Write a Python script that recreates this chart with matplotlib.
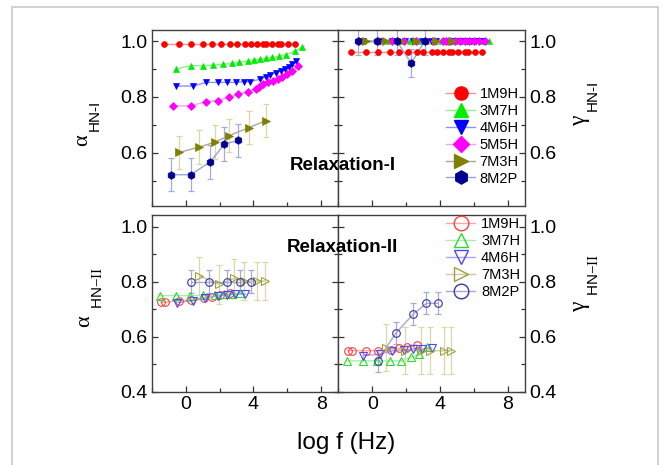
import matplotlib
matplotlib.use('Agg')
import matplotlib.pyplot as plt
from matplotlib.lines import Line2D
from matplotlib.patches import Rectangle
from matplotlib.ticker import MultipleLocator

plt.rcParams['font.family'] = ['Liberation Sans', 'DejaVu Sans']
plt.rcParams['mathtext.fontset'] = 'custom'
plt.rcParams['mathtext.rm'] = 'Liberation Serif'
plt.rcParams['mathtext.sf'] = 'Liberation Sans'
plt.rcParams['mathtext.it'] = 'Liberation Serif'

# ---------------- Relaxation-I (HN fit parameters) ----------------
x_1M9H_I = [-1.27, -0.37, 0.32, 1.05, 1.56, 2.09, 2.62, 3.0, 3.5, 3.84, 4.19, 4.55, 4.72, 5.08, 5.45, 5.62, 6.06, 6.47]
a_1M9H_I = [0.99, 0.99, 0.99, 0.99, 0.99, 0.99, 0.99, 0.99, 0.99, 0.99, 0.99, 0.99, 0.99, 0.99, 0.99, 0.99, 0.99, 0.99]
g_1M9H_I = [0.96, 0.96, 0.96, 0.96, 0.96, 0.96, 0.96, 0.96, 0.96, 0.96, 0.96, 0.96, 0.96, 0.96, 0.96, 0.96, 0.96, 0.96]

x_3M7H_I = [-0.57, 0.31, 1.0, 1.62, 2.21, 2.71, 3.15, 3.65, 4.04, 4.37, 4.72, 5.12, 5.51, 5.94, 6.47, 6.88]
a_3M7H_I = [0.900, 0.912, 0.912, 0.914, 0.917, 0.920, 0.924, 0.929, 0.932, 0.935, 0.938, 0.942, 0.946, 0.952, 0.965, 0.980]
g_3M7H_I = [1.0, 1.0, 1.0, 1.0, 1.0, 1.0, 1.0, 1.0, 1.0, 1.0, 1.0, 1.0, 1.0, 1.0, 1.0, 1.0]

x_4M6H_I = [-0.57, 0.45, 1.19, 1.92, 2.41, 2.95, 3.45, 3.78, 4.37, 4.72, 4.96, 5.31, 5.61, 5.84, 6.09, 6.29, 6.53]
a_4M6H_I = [0.839, 0.839, 0.852, 0.852, 0.852, 0.852, 0.855, 0.855, 0.863, 0.872, 0.879, 0.887, 0.894, 0.900, 0.908, 0.917, 0.929]
g_4M6H_I = [1.0, 1.0, 1.0, 1.0, 1.0, 1.0, 1.0, 1.0, 1.0, 1.0, 1.0, 1.0, 1.0, 1.0, 1.0, 1.0, 1.0]

x_5M5H_I = [-0.76, 0.31, 1.19, 1.88, 2.56, 3.09, 3.65, 4.14, 4.33, 4.56, 4.86, 5.15, 5.45, 5.71, 5.98, 6.29, 6.62]
a_5M5H_I = [0.768, 0.768, 0.783, 0.787, 0.798, 0.810, 0.819, 0.829, 0.837, 0.846, 0.855, 0.858, 0.864, 0.872, 0.881, 0.894, 0.911]
g_5M5H_I = [1.0, 1.0, 1.0, 1.0, 1.0, 1.0, 1.0, 1.0, 1.0, 1.0, 1.0, 1.0, 1.0, 1.0, 1.0, 1.0, 1.0]

x_7M3H_I = [-0.38, 0.8, 1.72, 2.55, 3.74, 4.72]
a_7M3H_I = [0.601, 0.620, 0.638, 0.661, 0.690, 0.715]
a_7M3H_I_err = [0.06, 0.06, 0.06, 0.06, 0.06, 0.06]
g_7M3H_I = [1.0, 1.0, 1.0, 1.0, 1.0, 1.0]

x_8M2P_I = [-0.86, 0.29, 1.45, 2.29, 3.09]
a_8M2P_I = [0.521, 0.521, 0.567, 0.631, 0.644]
a_8M2P_I_err = [0.06, 0.06, 0.06, 0.06, 0.06]
g_8M2P_I = [1.0, 1.0, 1.0, 0.921, 1.0]
g_8M2P_I_err = [0.05, 0.05, 0.05, 0.05, 0.05]

# ---------------- Relaxation-II ----------------
x_1M9H_II = [-1.45, -1.22, -0.37, 0.33, 1.08, 1.57, 2.05, 2.61]
a_1M9H_II = [0.725, 0.725, 0.731, 0.733, 0.742, 0.745, 0.752, 0.758]
g_1M9H_II = [0.549, 0.549, 0.549, 0.549, 0.552, 0.558, 0.564, 0.570]

x_3M7H_II = [-1.5, -0.55, 0.27, 1.02, 1.72, 2.28, 2.75, 3.2]
a_3M7H_II = [0.749, 0.749, 0.749, 0.750, 0.752, 0.754, 0.756, 0.760]
g_3M7H_II = [0.512, 0.512, 0.512, 0.512, 0.512, 0.525, 0.536, 0.564]

x_4M6H_II = [-0.53, 0.44, 1.17, 1.9, 2.42, 2.93, 3.5]
a_4M6H_II = [0.724, 0.730, 0.740, 0.749, 0.752, 0.754, 0.754]
g_4M6H_II = [0.530, 0.537, 0.548, 0.552, 0.555, 0.555, 0.558]

x_7M3H_II = [0.8, 1.94, 2.87, 3.42, 4.2, 4.66]
a_7M3H_II = [0.821, 0.790, 0.812, 0.802, 0.802, 0.802]
a_7M3H_II_err = [0.07, 0.07, 0.07, 0.07, 0.07, 0.07]
g_7M3H_II = [0.560, 0.549, 0.549, 0.549, 0.549, 0.549]
g_7M3H_II_err = [0.085, 0.085, 0.085, 0.085, 0.085, 0.085]

x_8M2P_II = [0.31, 1.38, 2.42, 3.19, 3.88]
a_8M2P_II = [0.80, 0.80, 0.80, 0.80, 0.80]
a_8M2P_II_err = [0.042, 0.042, 0.042, 0.042, 0.042]
g_8M2P_II = [0.512, 0.612, 0.682, 0.721, 0.721]
g_8M2P_II_err = [0.04, 0.04, 0.04, 0.04, 0.04]

x_ticks = [0, 4, 8]
y_ticks = [0.4, 0.6, 0.8, 1.0]
y_ticklabels = ['0.4', '0.6', '0.8', '1.0']

# ---------------- styles ----------------
style_I = {
    '1M9H': dict(marker='o', ms=4.2, mc='#FF0000', lc='#FF9090', ec=None),
    '3M7H': dict(marker='^', ms=5.0, mc='#00EE00', lc='#90F090', ec=None),
    '4M6H': dict(marker='v', ms=5.0, mc='#0000FF', lc='#9090FF', ec=None),
    '5M5H': dict(marker='D', ms=4.0, mc='#FF00FF', lc='#FF9CFF', ec=None),
    '7M3H': dict(marker='>', ms=5.5, mc='#808000', lc='#A8A8A0', ec='#D8D8A0'),
    '8M2P': dict(marker='h', ms=5.5, mc='#000090', lc='#A0A0D8', ec='#A8A8E8'),
}
style_II = {
    '1M9H': dict(marker='o', ms=5.5, mc='#FF4040', lc='#FFA8A8', ec=None),
    '3M7H': dict(marker='^', ms=6.0, mc='#30D830', lc='#A8F0A8', ec=None),
    '4M6H': dict(marker='v', ms=6.0, mc='#4848FF', lc='#A8A8FF', ec=None),
    '7M3H': dict(marker='>', ms=6.0, mc='#A0A040', lc='#C8C8A8', ec='#D8D8A8'),
    '8M2P': dict(marker='o', ms=5.5, mc='#3838A0', lc='#A8A8D8', ec='#A8A8E0'),
}

W, H = 667, 465
fig = plt.figure(figsize=(W / 100, H / 100), dpi=100)

# light frame around the whole figure
fig.patches.append(Rectangle((12 / W, -0.05), (658 - 12) / W, 1.05 - 7 / H,
                             transform=fig.transFigure, fill=False,
                             edgecolor='#CDCDCD', lw=1.3))

L, M, R = 151.7 / W, 338.3 / W, 525 / W
top_b, top_h = 1 - 205.7 / H, (205.7 - 30) / H
bot_b, bot_h = 1 - 391.7 / H, (391.7 - 215) / H

ax_aI = fig.add_axes([L, top_b, M - L, top_h])
ax_gI = fig.add_axes([M, top_b, R - M, top_h])
ax_aII = fig.add_axes([L, bot_b, M - L, bot_h])
ax_gII = fig.add_axes([M, bot_b, R - M, bot_h])


def draw(ax, x, y, st, filled, err=None):
    mfc = st['mc'] if filled else 'none'
    if err is not None:
        ax.errorbar(x, y, yerr=err, fmt='none', ecolor=st['ec'], elinewidth=0.9,
                    capsize=2, capthick=0.9, zorder=2)
    ax.plot(x, y, '-', color=st['lc'], lw=1.0, zorder=3)
    ax.plot(x, y, ls='none', marker=st['marker'], ms=st['ms'], mfc=mfc,
            mec=st['mc'], mew=0.5 if filled else 0.8, zorder=4)


draw(ax_aI, x_1M9H_I, a_1M9H_I, style_I['1M9H'], True)
draw(ax_aI, x_3M7H_I, a_3M7H_I, style_I['3M7H'], True)
draw(ax_aI, x_4M6H_I, a_4M6H_I, style_I['4M6H'], True)
draw(ax_aI, x_5M5H_I, a_5M5H_I, style_I['5M5H'], True)
draw(ax_aI, x_7M3H_I, a_7M3H_I, style_I['7M3H'], True, a_7M3H_I_err)
draw(ax_aI, x_8M2P_I, a_8M2P_I, style_I['8M2P'], True, a_8M2P_I_err)

draw(ax_gI, x_1M9H_I, g_1M9H_I, style_I['1M9H'], True)
draw(ax_gI, x_3M7H_I, g_3M7H_I, style_I['3M7H'], True)
draw(ax_gI, x_4M6H_I, g_4M6H_I, style_I['4M6H'], True)
draw(ax_gI, x_5M5H_I, g_5M5H_I, style_I['5M5H'], True)
draw(ax_gI, x_7M3H_I, g_7M3H_I, style_I['7M3H'], True)
draw(ax_gI, x_8M2P_I, g_8M2P_I, style_I['8M2P'], True, g_8M2P_I_err)

draw(ax_aII, x_1M9H_II, a_1M9H_II, style_II['1M9H'], False)
draw(ax_aII, x_3M7H_II, a_3M7H_II, style_II['3M7H'], False)
draw(ax_aII, x_4M6H_II, a_4M6H_II, style_II['4M6H'], False)
draw(ax_aII, x_7M3H_II, a_7M3H_II, style_II['7M3H'], False, a_7M3H_II_err)
draw(ax_aII, x_8M2P_II, a_8M2P_II, style_II['8M2P'], False, a_8M2P_II_err)

draw(ax_gII, x_1M9H_II, g_1M9H_II, style_II['1M9H'], False)
draw(ax_gII, x_3M7H_II, g_3M7H_II, style_II['3M7H'], False)
draw(ax_gII, x_4M6H_II, g_4M6H_II, style_II['4M6H'], False)
draw(ax_gII, x_7M3H_II, g_7M3H_II, style_II['7M3H'], False, g_7M3H_II_err)
draw(ax_gII, x_8M2P_II, g_8M2P_II, style_II['8M2P'], False, g_8M2P_II_err)

# ---------------- axes formatting ----------------
for ax in (ax_aI, ax_gI, ax_aII, ax_gII):
    ax.set_xlim(-2, 9)
    ax.xaxis.set_major_locator(MultipleLocator(4))
    ax.xaxis.set_minor_locator(MultipleLocator(2))
    ax.set_yticks(y_ticks)
    ax.set_yticklabels(y_ticklabels)
    ax.yaxis.set_minor_locator(MultipleLocator(0.1))
    ax.tick_params(which='both', direction='in', top=False, left=True, right=True,
                   labelsize=14, pad=3, color='#333333', width=0.9)
    ax.tick_params(which='major', length=4.5)
    ax.tick_params(which='minor', length=3)
    for sp in ax.spines.values():
        sp.set_color('#404040')
        sp.set_linewidth(1.0)

for ax in (ax_aI, ax_gI):
    ax.set_ylim(0.41, 1.04)
    ax.tick_params(labelbottom=False)
for ax in (ax_aII, ax_gII):
    ax.set_ylim(0.4, 1.042)
    ax.set_xticks(x_ticks)
    ax.set_xticklabels([str(v) for v in x_ticks])

for ax in (ax_aI, ax_aII):
    ax.tick_params(labelleft=True, labelright=False)
for ax in (ax_gI, ax_gII):
    ax.tick_params(labelleft=False, labelright=True)

# ---------------- legends ----------------
names_I = ['1M9H', '3M7H', '4M6H', '5M5H', '7M3H', '8M2P']
handles_I = [Line2D([0], [0], color=style_I[n]['lc'], lw=1.0, marker=style_I[n]['marker'],
                    ms=9.5 if n != '5M5H' else 8.5, mfc=style_I[n]['mc'],
                    mec=style_I[n]['mc']) for n in names_I]
leg1 = ax_gI.legend(handles_I, names_I, loc='upper left', frameon=False, fontsize=10.5,
                    bbox_to_anchor=(446 / W, 1 - 87 / H), bbox_transform=fig.transFigure,
                    handlelength=2.0, handletextpad=0.3, labelspacing=0.2,
                    borderpad=0, borderaxespad=0)

names_II = ['1M9H', '3M7H', '4M6H', '7M3H', '8M2P']
handles_II = [Line2D([0], [0], color=style_II[n]['lc'], lw=1.0, marker=style_II[n]['marker'],
                     ms=10.5, mfc='none', mec=style_II[n]['mc'], mew=1.0) for n in names_II]
leg2 = ax_gII.legend(handles_II, names_II, loc='upper left', frameon=False, fontsize=10.5,
                     bbox_to_anchor=(446 / W, 1 - 217 / H), bbox_transform=fig.transFigure,
                     handlelength=2.0, handletextpad=0.4, labelspacing=0.2,
                     borderpad=0, borderaxespad=0)

# ---------------- labels ----------------
fig.text(343 / W, 1 - 166 / H, 'Relaxation-I', fontsize=13.5, fontweight='bold',
         ha='center', va='center')
fig.text(342 / W, 1 - 247 / H, 'Relaxation-II', fontsize=13.5, fontweight='bold',
         ha='center', va='center')


def ylabel(symbol, sub, base_x, start_y, sub_x, sub_y, size=16):
    """Rotated axis label: a Greek symbol with a separate subscript."""
    kw = dict(rotation=90, rotation_mode='anchor', ha='left', va='baseline')
    fig.text(base_x / W, 1 - start_y / H, symbol, fontsize=size,
             family='Liberation Serif', **kw)
    fig.text(sub_x / W, 1 - sub_y / H, sub, fontsize=11, **kw)


ylabel('α', 'HN-I', 87, 146, 99, 131)
ylabel('γ', 'HN-I', 585, 126, 597, 111, size=17)
ylabel('α', r'$\mathsf{HN}\mathrm{-II}$', 89, 327, 102, 309)
ylabel('γ', r'$\mathsf{HN}\mathrm{-II}$', 585, 312, 597.5, 296, size=17)

fig.text(346 / W, 1 - 443 / H, 'log f (Hz)', fontsize=17.5, ha='center', va='center')

fig.savefig('out.png', dpi=100)
